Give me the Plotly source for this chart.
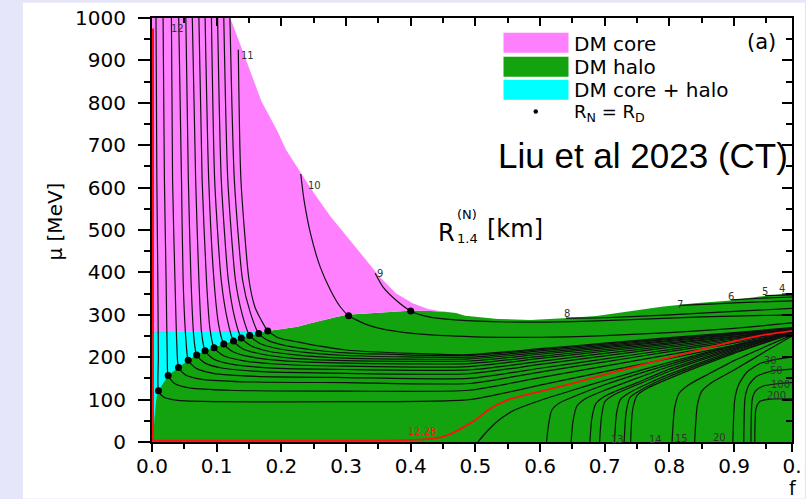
import plotly.graph_objects as go

X_END = 0.9895

# ---------------- region boundaries (f, mu[MeV]) ----------------
core_edge_f = [0.121, 0.144, 0.169, 0.194, 0.207, 0.230, 0.250, 0.276, 0.301, 0.326, 0.352, 0.377, 0.403, 0.428, 0.448, 0.46]
core_edge_mu = [1000, 907, 804, 733, 690, 635, 588, 532, 485, 438, 390, 351, 327, 313, 307, 305]

halo_top_f = [0.179, 0.2, 0.225, 0.245, 0.265, 0.285, 0.301, 0.33, 0.352, 0.38, 0.403, 0.43, 0.453,
              0.47, 0.484, 0.535, 0.585, 0.636, 0.687, 0.737, 0.788, 0.839, 0.890, 0.940, X_END]
halo_top_mu = [262, 266, 272, 280, 288, 295, 300, 303, 305, 308, 310, 309, 307,
               304, 298, 290, 288, 292, 297, 307, 319, 327, 333, 343, 351]
mix_top_mu = 259

# R_N = R_D points
dots_f = [0.010, 0.025, 0.041, 0.056, 0.069, 0.082, 0.096, 0.111, 0.126, 0.138, 0.151, 0.165, 0.179, 0.304, 0.40]
dots_mu = [121, 157, 176, 193, 205, 215, 222, 231, 238, 245, 251, 256, 262, 298, 309]

mix_low_f = [0.007, 0.004, 0.002, 0.0]
mix_low_mu = [106, 59, 10, 0]

# ---------------- contour lines R_1.4 ----------------
left_lines_f = [
    [0.0062, 0.0075, 0.009, 0.0098, 0.010, 0.018, 0.04, 0.1, 0.3, 0.49, 0.6, 0.7, 0.8, 0.9, X_END],
    [0.0171, 0.0192, 0.0218, 0.0235, 0.025, 0.035, 0.06, 0.12, 0.3, 0.49, 0.6, 0.7, 0.8, 0.9, X_END],
    [0.0300, 0.0318, 0.0355, 0.0385, 0.041, 0.052, 0.08, 0.14, 0.3, 0.49, 0.6, 0.7, 0.8, 0.9, X_END],
    [0.0413, 0.0456, 0.0481, 0.0525, 0.056, 0.068, 0.095, 0.16, 0.3, 0.49, 0.6, 0.7, 0.8, 0.9, X_END],
    [0.0523, 0.0562, 0.0603, 0.0645, 0.069, 0.082, 0.11, 0.17, 0.3, 0.49, 0.6, 0.7, 0.8, 0.9, X_END],
    [0.0623, 0.0675, 0.0725, 0.0765, 0.082, 0.095, 0.125, 0.18, 0.3, 0.49, 0.6, 0.7, 0.8, 0.9, X_END],
    [0.0725, 0.0775, 0.0842, 0.0895, 0.096, 0.11, 0.14, 0.19, 0.3, 0.49, 0.6, 0.7, 0.8, 0.9, X_END],
    [0.0821, 0.0877, 0.0958, 0.103, 0.111, 0.125, 0.155, 0.2, 0.3, 0.49, 0.6, 0.7, 0.8, 0.9, X_END],
    [0.0919, 0.0969, 0.107, 0.117, 0.126, 0.14, 0.17, 0.215, 0.3, 0.49, 0.6, 0.7, 0.8, 0.9, X_END],
    [0.1014, 0.1071, 0.118, 0.128, 0.138, 0.153, 0.18, 0.225, 0.3, 0.49, 0.6, 0.7, 0.8, 0.9, X_END],
    [0.1110, 0.1172, 0.129, 0.140, 0.151, 0.166, 0.195, 0.24, 0.3, 0.49, 0.6, 0.7, 0.8, 0.9, X_END],
    [0.1205, 0.1273, 0.14, 0.152, 0.165, 0.18, 0.21, 0.25, 0.3, 0.49, 0.6, 0.7, 0.8, 0.9, X_END],
    [0.1334, 0.1375, 0.150, 0.159, 0.169, 0.179, 0.195, 0.225, 0.26, 0.3, 0.4, 0.49, 0.6, 0.7, 0.8, 0.9, X_END],
]
left_lines_mu = [
    [1000, 618, 382, 200, 121, 106, 98, 95, 95, 100, 134, 166, 197, 228, 256],
    [1000, 618, 382, 210, 157, 138, 127, 122, 120, 122, 152, 179, 206, 233, 258],
    [1000, 618, 382, 225, 176, 158, 147, 142, 140, 138, 165, 189, 213, 237, 259],
    [1000, 618, 382, 240, 193, 174, 162, 155, 152, 150, 174, 196, 218, 240, 260],
    [1000, 618, 382, 250, 205, 186, 174, 166, 162, 161, 183, 203, 223, 243, 261],
    [1000, 618, 382, 260, 215, 196, 183, 175, 171, 170, 190, 209, 227, 245, 262],
    [1000, 618, 382, 268, 222, 204, 192, 184, 179, 178, 197, 214, 231, 248, 263],
    [1000, 618, 382, 277, 231, 213, 200, 192, 186, 185, 202, 218, 234, 249, 264],
    [1000, 618, 382, 285, 238, 220, 207, 198, 192, 191, 207, 222, 237, 252, 265],
    [1000, 618, 382, 292, 245, 227, 214, 205, 198, 196, 211, 225, 239, 253, 266],
    [1000, 618, 382, 298, 251, 233, 220, 211, 204, 200, 215, 228, 242, 255, 267],
    [1000, 618, 382, 305, 256, 239, 226, 217, 210, 204, 218, 231, 244, 256, 268],
    [925, 618, 382, 319, 287, 262, 246, 236, 226, 217, 209, 206, 220, 233, 246, 258, 270],
]

upper_lines_f = [
    [0.230, 0.235, 0.245, 0.260, 0.276, 0.291, 0.304, 0.33, 0.352, 0.403, 0.499, 0.6, 0.7, 0.8, 0.9, X_END],  # 10
    [0.345, 0.357, 0.377, 0.40, 0.428, 0.469, 0.55, 0.65, 0.75, 0.85, X_END],                               # 9
    [0.64, 0.7, 0.8, 0.9, X_END],        # 8
    [0.816, 0.87, 0.93, X_END],          # 7
    [0.895, 0.94, X_END],                # 6
    [0.948, X_END],                      # 5
    [0.974, X_END],                      # 4
]
upper_lines_mu = [
    [632, 571, 492, 413, 358, 319, 298, 278, 268, 256, 248, 247, 251, 258, 268, 281],
    [398, 366, 335, 309, 295, 288, 283, 284, 289, 295, 300],
    [292, 293, 300, 308, 315],
    [322, 326, 330, 333],
    [335, 339, 342],
    [345, 347],
    [349, 350],
]

lower_lines_f = [
    [0.504, 0.515, 0.535, 0.56, 0.6, 0.65, 0.7, 0.8, 0.9, X_END],
    [0.610, 0.613, 0.618, 0.63, 0.66, 0.7, 0.8, 0.9, X_END],
    [0.648, 0.651, 0.657, 0.67, 0.7, 0.8, 0.9, X_END],
    [0.677, 0.68, 0.686, 0.7, 0.75, 0.8, 0.9, X_END],
    [0.692, 0.695, 0.70, 0.715, 0.75, 0.8, 0.9, X_END],
    [0.715, 0.718, 0.724, 0.74, 0.8, 0.9, X_END],
    [0.730, 0.733, 0.739, 0.755, 0.8, 0.9, X_END],
    [0.740, 0.743, 0.75, 0.765, 0.8, 0.9, X_END],
    [0.804, 0.808, 0.815, 0.83, 0.86, 0.9, X_END],
    [0.839, 0.843, 0.85, 0.865, 0.9, 0.95, X_END],
    [0.898, 0.901, 0.907, 0.92, 0.94, 0.97, X_END],
    [0.915, 0.917, 0.923, 0.935, 0.96, X_END],
    [0.926, 0.928, 0.933, 0.945, 0.97, X_END],
    [0.932, 0.934, 0.94, 0.955, X_END],
]
lower_lines_mu = [
    [0, 20, 50, 75, 98, 122, 145, 188, 228, 259],
    [0, 40, 75, 92, 112, 135, 183, 226, 258],
    [0, 50, 85, 102, 122, 178, 223, 257],
    [0, 55, 90, 108, 140, 172, 221, 257],
    [0, 60, 95, 112, 135, 167, 218, 256],
    [0, 65, 100, 118, 160, 215, 256],
    [0, 70, 105, 122, 155, 212, 255],
    [0, 75, 110, 126, 150, 209, 255],
    [0, 80, 115, 135, 160, 192, 252],
    [0, 85, 120, 140, 170, 215, 250],
    [0, 100, 135, 165, 185, 196, 200],
    [0, 105, 135, 155, 168, 172],
    [0, 100, 120, 132, 138, 140],
    [0, 80, 96, 101, 102],
]

red_f = [0.0, 0.1, 0.2, 0.3, 0.38, 0.42, 0.44, 0.455, 0.47, 0.485, 0.50, 0.515, 0.53, 0.545,
         0.56, 0.58, 0.60, 0.65, 0.71, 0.77, 0.83, 0.89, 0.94, X_END]
red_mu = [3, 3, 3, 3, 4, 6, 9, 15, 25, 38, 52, 70, 85, 96,
          104, 112, 119, 138, 163, 187, 211, 234, 251, 262]
red_edge_mu = [0, 975]

# contour labels
clabel_text = ["12", "11", "10", "9", "8", "7", "6", "5", "4", "13", "14", "15", "20", "30", "50", "100", "200"]
clabel_f = [0.039, 0.147, 0.251, 0.353, 0.641, 0.816, 0.895, 0.948, 0.974, 0.72, 0.779, 0.819, 0.878, 0.957, 0.965, 0.971, 0.965]
clabel_mu = [976, 911, 606, 398, 304, 325, 342, 356, 363, 6, 6, 9, 11, 193, 169, 136, 110]

x_ticks = [0.0, 0.1, 0.2, 0.3, 0.4, 0.5, 0.6, 0.7, 0.8, 0.9, X_END]
x_ticktext = ["0.0", "0.1", "0.2", "0.3", "0.4", "0.5", "0.6", "0.7", "0.8", "0.9", "0."]
x_minor = [0.05, 0.15, 0.25, 0.35, 0.45, 0.55, 0.65, 0.75, 0.85, 0.95]
y_ticks = [0, 100, 200, 300, 400, 500, 600, 700, 800, 900, 1000]

MAGENTA = "#FF80FF"
GREEN = "#12A30E"
CYAN = "#00FFFF"
FONT = "DejaVu Sans"

fig = go.Figure()

# DM halo (green)
fig.add_trace(go.Scatter(x=[0, X_END] + halo_top_f[::-1] + [0.0],
                         y=[0, 0] + halo_top_mu[::-1] + [mix_top_mu],
                         fill="toself", fillcolor=GREEN, line=dict(width=0), mode="lines",
                         hoverinfo="skip", showlegend=False))
# DM core + halo (cyan)
fig.add_trace(go.Scatter(x=[0.0] + dots_f[:13][::-1] + mix_low_f,
                         y=[mix_top_mu] + dots_mu[:13][::-1] + mix_low_mu,
                         fill="toself", fillcolor=CYAN, line=dict(width=0), mode="lines",
                         hoverinfo="skip", showlegend=False))
# DM core (magenta)
fig.add_trace(go.Scatter(x=[0.0] + core_edge_f + halo_top_f[:13][::-1] + [0.0],
                         y=[1000] + core_edge_mu + halo_top_mu[:13][::-1] + [mix_top_mu],
                         fill="toself", fillcolor=MAGENTA, line=dict(width=0), mode="lines",
                         hoverinfo="skip", showlegend=False))

line_style = dict(color="#111111", width=1.2, shape="spline", smoothing=0.6)
for fs, ms in zip(left_lines_f + upper_lines_f + lower_lines_f, left_lines_mu + upper_lines_mu + lower_lines_mu):
    fig.add_trace(go.Scatter(x=fs, y=ms, mode="lines", line=line_style, hoverinfo="skip", showlegend=False))

# 12.28 contour (red)
fig.add_trace(go.Scatter(x=red_f, y=red_mu, mode="lines", line=dict(color="#FF1010", width=1.8, shape="spline", smoothing=0.5),
                         hoverinfo="skip", showlegend=False))
fig.add_trace(go.Scatter(x=[0.0, 0.0], y=red_edge_mu, mode="lines", line=dict(color="#FF1010", width=4),
                         hoverinfo="skip", showlegend=False))

# R_N = R_D points
fig.add_trace(go.Scatter(x=dots_f, y=dots_mu, mode="markers", marker=dict(color="black", size=7),
                         hoverinfo="skip", showlegend=False))

# dummy trace for the mirrored axes
fig.add_trace(go.Scatter(x=[], y=[], xaxis="x2", yaxis="y2", showlegend=False))

for t, f, m in zip(clabel_text, clabel_f, clabel_mu):
    fig.add_annotation(x=f, y=m, text=t, showarrow=False, font=dict(family=FONT, size=10, color="#333333"))
fig.add_annotation(x=0.418, y=25, text="12.28", showarrow=False, font=dict(family=FONT, size=10, color="#FF1010"))


def px(xp):
    return (xp - 152.0) / 650.0


def py(yp):
    return (441.7 - yp) / 423.4


# panel background
fig.add_shape(type="rect", xref="paper", yref="paper", x0=px(21), x1=px(815), y0=py(498), y1=py(3),
              fillcolor="white", line=dict(width=0), layer="below")

# legend
for col, y0, y1 in [(MAGENTA, 53, 33), (GREEN, 77, 57), (CYAN, 100, 80)]:
    fig.add_shape(type="rect", xref="paper", yref="paper", x0=px(509), x1=px(575), y0=py(y0), y1=py(y1),
                  fillcolor=col, line=dict(width=0))
fig.add_shape(type="circle", xref="paper", yref="paper", x0=px(539.5), x1=px(544), y0=py(114), y1=py(109.5),
              fillcolor="black", line=dict(width=0))
for txt, yc, sz in [("DM core", 44, 20), ("DM halo", 67, 20), ("DM core + halo", 90, 20),
                    ("R<sub>N</sub> = R<sub>D</sub>", 113, 18)]:
    fig.add_annotation(xref="paper", yref="paper", x=px(579), y=py(yc), text=txt, showarrow=False,
                       xanchor="left", yanchor="middle", font=dict(family=FONT, size=sz, color="black"))

fig.add_annotation(xref="paper", yref="paper", x=px(788), y=py(42), text="(a)", showarrow=False,
                   xanchor="right", yanchor="middle", font=dict(family=FONT, size=21, color="black"))
fig.add_annotation(xref="paper", yref="paper", x=px(501), y=py(156), text="Liu et al 2023 (CT)", showarrow=False,
                   xanchor="left", yanchor="middle", font=dict(family="Liberation Sans", size=35, color="black"))

# R_1.4^(N) [km]
fig.add_annotation(xref="paper", yref="paper", x=px(462), y=py(233), text="R", showarrow=False,
                   xanchor="right", yanchor="middle", font=dict(family=FONT, size=24, color="black"))
fig.add_annotation(xref="paper", yref="paper", x=px(460), y=py(215), text="(N)", showarrow=False,
                   xanchor="left", yanchor="middle", font=dict(family=FONT, size=13, color="black"))
fig.add_annotation(xref="paper", yref="paper", x=px(460), y=py(238), text="1.4", showarrow=False,
                   xanchor="left", yanchor="middle", font=dict(family=FONT, size=13, color="black"))
fig.add_annotation(xref="paper", yref="paper", x=px(490), y=py(229), text="[km]", showarrow=False,
                   xanchor="left", yanchor="middle", font=dict(family=FONT, size=24, color="black"))

# axis titles
fig.add_annotation(xref="paper", yref="paper", x=px(53), y=py(222), text="μ [MeV]", showarrow=False,
                   textangle=-90, xanchor="center", yanchor="middle", font=dict(family=FONT, size=20, color="black"))
fig.add_annotation(xref="paper", yref="paper", x=px(797), y=py(488), text="f", showarrow=False,
                   xanchor="left", yanchor="middle", font=dict(family=FONT, size=19, color="black"))

tickfont = dict(family=FONT, size=20, color="black")
fig.update_layout(
    width=806, height=499,
    margin=dict(l=152, r=4, t=18, b=57),
    paper_bgcolor="#E6E6FA", plot_bgcolor="white",
    showlegend=False,
    xaxis=dict(range=[0, X_END], tickmode="array", tickvals=x_ticks, ticktext=x_ticktext,
               ticks="outside", ticklen=8, tickwidth=2, tickcolor="black",
               minor=dict(tickmode="array", tickvals=x_minor, ticks="outside", ticklen=5, tickwidth=2, tickcolor="black"),
               showline=True, linewidth=2, linecolor="black", showgrid=False, zeroline=False,
               tickfont=tickfont, ticklabelstandoff=-3, ticklabeloverflow="allow"),
    yaxis=dict(range=[0, 1000], tickmode="array", tickvals=y_ticks,
               ticks="outside", ticklen=12, tickwidth=2, tickcolor="black",
               minor=dict(dtick=50, ticks="outside", ticklen=6, tickwidth=2, tickcolor="black"),
               showline=True, linewidth=2, linecolor="black", showgrid=False, zeroline=False,
               tickfont=tickfont, ticklabelstandoff=8, layer="below traces"),
    xaxis2=dict(range=[0, X_END], overlaying="x", side="top", anchor="y2", tickmode="array", tickvals=x_ticks[:-1],
                ticks="inside", ticklen=8, tickwidth=2, tickcolor="black",
                minor=dict(tickmode="array", tickvals=x_minor, ticks="inside", ticklen=5, tickwidth=2, tickcolor="black"),
                showticklabels=False, showline=True, linewidth=2, linecolor="black", showgrid=False, zeroline=False),
    yaxis2=dict(range=[0, 1000], overlaying="y", side="right", anchor="x2", tickmode="array", tickvals=y_ticks,
                ticks="inside", ticklen=10, tickwidth=2, tickcolor="black",
                minor=dict(dtick=50, ticks="inside", ticklen=6, tickwidth=2, tickcolor="black"),
                showticklabels=False, showline=True, linewidth=2, linecolor="black", showgrid=False, zeroline=False),
)

fig.write_html("out.html")
